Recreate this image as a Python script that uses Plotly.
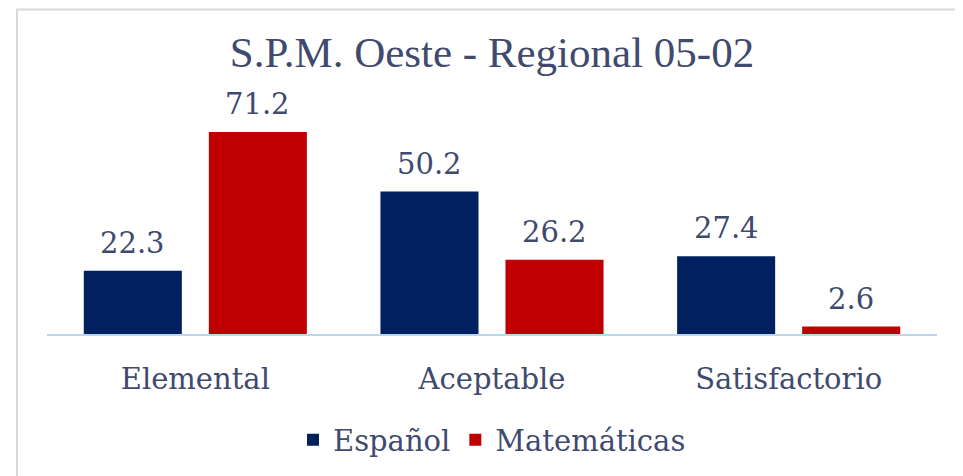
import plotly.graph_objects as go

categories = ["Elemental", "Aceptable", "Satisfactorio"]
espanol = [22.3, 50.2, 27.4]
matematicas = [71.2, 26.2, 2.6]
series_names = ["Español", "Matemáticas"]
colors = ["#002060", "#C00000"]
title_text = "S.P.M. Oeste - Regional 05-02"

FONT = "DejaVu Serif"
TFONT = "Liberation Serif"
TXT = "#404A6E"
W, H = 955, 468
L, R, T, B = 39, 26, 99, 141
BARGAP = 0.157
GROUPGAP = 0.216
YMAX = 80

fig = go.Figure()
for name, vals, col in zip(series_names, [espanol, matematicas], colors):
    fig.add_trace(go.Bar(name=name, x=categories, y=vals, marker_color=col,
                         marker_line_width=0))

# value labels above bars
off = (1 - BARGAP) / 4
for si, vals in enumerate([espanol, matematicas]):
    for ci, v in enumerate(vals):
        fig.add_annotation(x=ci + (-off if si == 0 else off), y=v, xref="x", yref="y",
                           text=f"{v:.1f}", showarrow=False, yanchor="bottom",
                           yshift=9, font=dict(family=FONT, size=29, color=TXT))

pw = W - L - R
ph = H - T - B
fig.add_shape(type="rect", xref="paper", yref="paper",
              x0=(9 - L) / pw, x1=(W + 5 - L) / pw,
              y0=((H - B) - (H + 5)) / ph, y1=((H - B) - 1) / ph,
              line=dict(color="#D9D9D9", width=2), fillcolor="rgba(0,0,0,0)", layer="below")

fig.update_layout(
    width=W, height=H,
    margin=dict(l=L, r=R, t=T, b=B),
    paper_bgcolor="white", plot_bgcolor="white",
    barmode="group", bargap=BARGAP, bargroupgap=GROUPGAP,
    title=dict(text=title_text, x=0.5, xref="paper", y=1 - 44 / H, yanchor="middle",
               font=dict(family=TFONT, size=43, color=TXT)),
    showlegend=True,
    legend=dict(orientation="h", x=0.5, xanchor="center", y=((H - B) - 432) / ph, yanchor="middle",
                font=dict(family=FONT, size=29, color=TXT)),
    xaxis=dict(showline=True, linecolor="#BDD7EE", linewidth=2, showgrid=False,
               ticks="outside", ticklen=18, tickcolor="rgba(0,0,0,0)",
               tickfont=dict(family=FONT, size=29, color=TXT)),
    yaxis=dict(range=[0, YMAX], visible=False, showgrid=False, zeroline=False),
)

fig.write_html("out.html")
